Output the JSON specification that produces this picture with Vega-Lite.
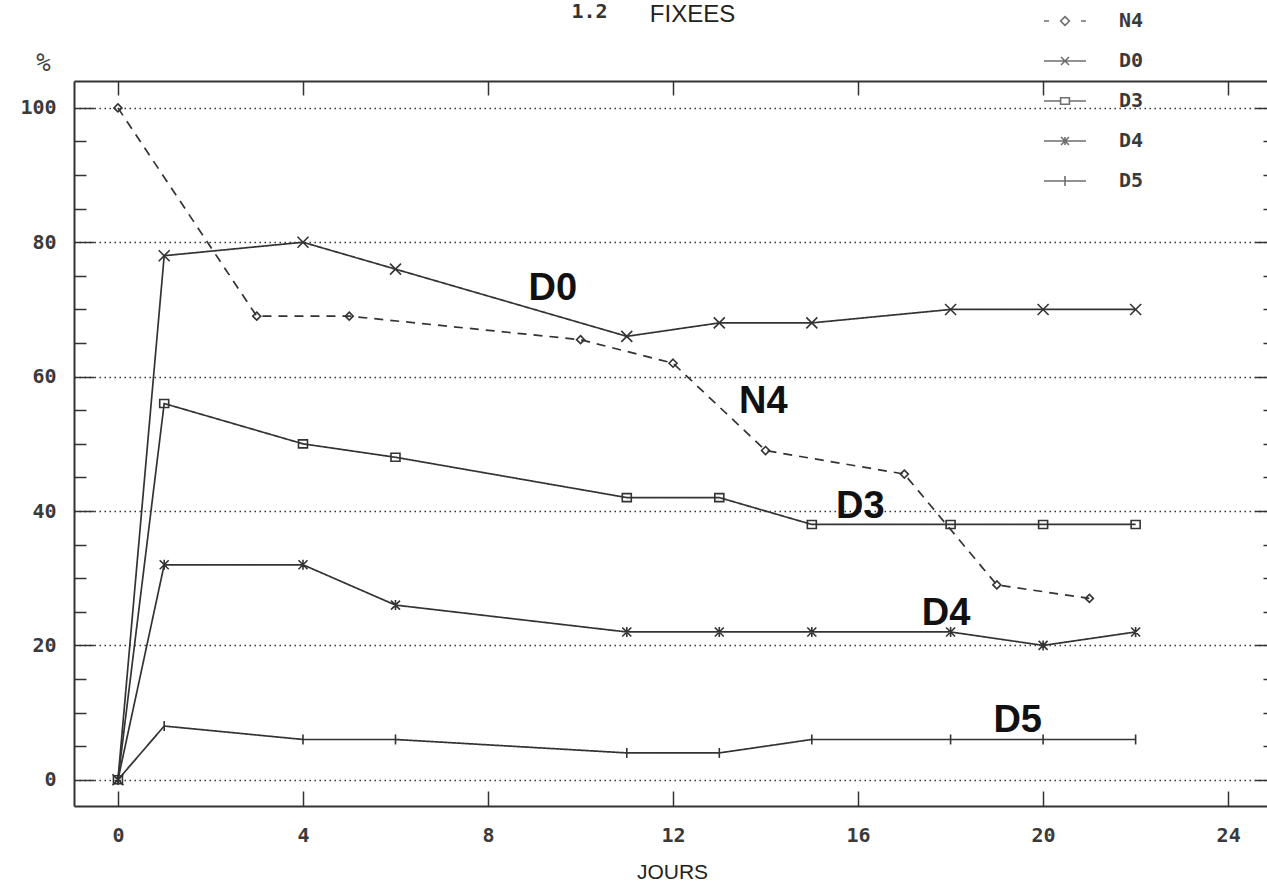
{
  "$schema": "https://vega.github.io/schema/vega-lite/v6.json",
  "width": 1193,
  "height": 725,
  "autosize": {"type": "none"},
  "padding": {"left": 74, "top": 81, "right": 0, "bottom": 78},
  "background": "white",
  "config": {
    "view": {"stroke": null},
    "axis": {"domainColor": "#333", "domainWidth": 2, "tickColor": "#333", "tickWidth": 1.5,
             "labelFont": "DejaVu Sans Mono", "labelFontWeight": "bold", "labelFontSize": 20, "labelColor": "#3a3a3a",
             "titleFontWeight": "normal", "titleColor": "#222"}
  },
  "datasets": {
    "main": [
      {"series": "N4", "day": 0, "value": 100},
      {"series": "N4", "day": 3, "value": 69},
      {"series": "N4", "day": 5, "value": 69},
      {"series": "N4", "day": 10, "value": 65.5},
      {"series": "N4", "day": 12, "value": 62},
      {"series": "N4", "day": 14, "value": 49},
      {"series": "N4", "day": 17, "value": 45.5},
      {"series": "N4", "day": 19, "value": 29},
      {"series": "N4", "day": 21, "value": 27},
      {"series": "D0", "day": 0, "value": 0},
      {"series": "D0", "day": 1, "value": 78},
      {"series": "D0", "day": 4, "value": 80},
      {"series": "D0", "day": 6, "value": 76},
      {"series": "D0", "day": 11, "value": 66},
      {"series": "D0", "day": 13, "value": 68},
      {"series": "D0", "day": 15, "value": 68},
      {"series": "D0", "day": 18, "value": 70},
      {"series": "D0", "day": 20, "value": 70},
      {"series": "D0", "day": 22, "value": 70},
      {"series": "D3", "day": 0, "value": 0},
      {"series": "D3", "day": 1, "value": 56},
      {"series": "D3", "day": 4, "value": 50},
      {"series": "D3", "day": 6, "value": 48},
      {"series": "D3", "day": 11, "value": 42},
      {"series": "D3", "day": 13, "value": 42},
      {"series": "D3", "day": 15, "value": 38},
      {"series": "D3", "day": 18, "value": 38},
      {"series": "D3", "day": 20, "value": 38},
      {"series": "D3", "day": 22, "value": 38},
      {"series": "D4", "day": 0, "value": 0},
      {"series": "D4", "day": 1, "value": 32},
      {"series": "D4", "day": 4, "value": 32},
      {"series": "D4", "day": 6, "value": 26},
      {"series": "D4", "day": 11, "value": 22},
      {"series": "D4", "day": 13, "value": 22},
      {"series": "D4", "day": 15, "value": 22},
      {"series": "D4", "day": 18, "value": 22},
      {"series": "D4", "day": 20, "value": 20},
      {"series": "D4", "day": 22, "value": 22},
      {"series": "D5", "day": 0, "value": 0},
      {"series": "D5", "day": 1, "value": 8},
      {"series": "D5", "day": 4, "value": 6},
      {"series": "D5", "day": 6, "value": 6},
      {"series": "D5", "day": 11, "value": 4},
      {"series": "D5", "day": 13, "value": 4},
      {"series": "D5", "day": 15, "value": 6},
      {"series": "D5", "day": 18, "value": 6},
      {"series": "D5", "day": 20, "value": 6},
      {"series": "D5", "day": 22, "value": 6}
    ],
    "labels": [
      {"label": "D0", "day": 9.4, "value": 73.1},
      {"label": "N4", "day": 13.95, "value": 56.2},
      {"label": "D3", "day": 16.05, "value": 40.6},
      {"label": "D4", "day": 17.9, "value": 24.7},
      {"label": "D5", "day": 19.45, "value": 8.8}
    ]
  },
  "resolve": {
    "scale": {"shape": "independent"},
    "axis": {"x": "independent", "y": "independent"},
    "legend": {"shape": "independent"}
  },
  "layer": [
    {
      "data": {"name": "main"},
      "mark": {"type": "line", "color": "#333", "strokeWidth": 1.7},
      "encoding": {
        "x": {"field": "day", "type": "quantitative",
              "scale": {"domain": [-0.95, 24.84], "nice": false, "zero": false},
              "axis": {"orient": "bottom", "values": [0, 4, 8, 12, 16, 20, 24], "tickSize": -15, "labelPadding": 34,
                       "grid": false, "domain": true,
                       "title": "JOURS", "titleFont": "Liberation Sans", "titleFontSize": 21, "titleX": 598, "titleY": 66,
                       "titleAlign": "center", "titleBaseline": "middle", "titleAnchor": null}},
        "y": {"field": "value", "type": "quantitative",
              "scale": {"domain": [-3.9, 104], "nice": false, "zero": false},
              "axis": {"orient": "left", "values": [0, 20, 40, 60, 80, 100], "tickSize": -20, "labelPadding": 38,
                       "grid": true, "gridDash": [1.5, 3.5], "gridColor": "#333", "gridWidth": 1.5, "gridOpacity": 1,
                       "domain": true,
                       "title": "%", "titleAngle": 0, "titleFont": "DejaVu Sans Mono", "titleFontSize": 24, "titleColor": "#444",
                       "titleX": -31, "titleY": -18, "titleAlign": "center", "titleBaseline": "middle", "titleAnchor": null}},
        "detail": {"field": "series"},
        "strokeDash": {"field": "series", "type": "nominal",
                       "scale": {"domain": ["N4", "D0", "D3", "D4", "D5"], "range": [[9, 7], [1, 0], [1, 0], [1, 0], [1, 0]]},
                       "legend": null}
      }
    },
    {
      "data": {"name": "main"},
      "mark": {"type": "point", "filled": false, "color": "#333", "strokeWidth": 1.6, "size": 100, "opacity": 1},
      "encoding": {
        "x": {"field": "day", "type": "quantitative",
              "scale": {"domain": [-0.95, 24.84], "nice": false, "zero": false},
              "axis": {"orient": "top", "values": [0, 4, 8, 12, 16, 20, 24], "tickSize": -14, "labels": false,
                       "grid": false, "domain": true,
                       "title": "FIXEES", "titleFont": "Liberation Sans", "titleFontSize": 24, "titleX": 618, "titleY": -67,
                       "titleAlign": "center", "titleBaseline": "middle", "titleAnchor": null}},
        "y": {"field": "value", "type": "quantitative",
              "scale": {"domain": [-3.9, 104], "nice": false, "zero": false},
              "axis": {"orient": "right", "offset": 8, "values": [0, 20, 40, 60, 80, 100], "tickSize": -20, "labels": false,
                       "grid": false, "domain": true, "title": null}},
        "shape": {"field": "series", "type": "nominal",
                  "scale": {"domain": ["N4", "D0", "D3", "D4", "D5"],
                            "range": ["M0,-0.8L0.8,0L0,0.8L-0.8,0Z",
                                      "M-1.1,-1.1L1.1,1.1M-1.1,1.1L1.1,-1.1",
                                      "M-0.9,-0.8L0.9,-0.8L0.9,0.8L-0.9,0.8Z",
                                      "M-0.9,-0.9L0.9,0.9M-0.9,0.9L0.9,-0.9M0,-1L0,1M-0.6,-0.6L0.6,0.6M-0.6,0.6L0.6,-0.6",
                                      "M0,-1L0,1"]},
                  "legend": null}
      }
    },
    {
      "data": {"name": "main"},
      "transform": [{"filter": "datum.day < -5"}],
      "mark": {"type": "point", "filled": false, "color": "#333", "strokeWidth": 1.5},
      "encoding": {
        "x": {"field": "day", "type": "quantitative",
              "scale": {"domain": [-0.95, 24.84], "nice": false, "zero": false},
              "axis": {"orient": "top", "ticks": false, "labels": false, "domain": false, "grid": false,
                       "title": "1.2", "titleFont": "DejaVu Sans Mono", "titleFontWeight": "bold", "titleFontSize": 20, "titleColor": "#333",
                       "titleX": 515, "titleY": -70, "titleAlign": "center", "titleBaseline": "middle", "titleAnchor": null}},
        "y": {"field": "value", "type": "quantitative",
              "scale": {"domain": [-3.9, 104], "nice": false, "zero": false},
              "axis": {"orient": "left", "values": [5, 10, 15, 25, 30, 35, 45, 50, 55, 65, 70, 75, 85, 90, 95],
                       "tickSize": -12, "labels": false, "grid": false, "domain": false, "title": null}},
        "shape": {"field": "series", "type": "nominal",
                  "scale": {"domain": ["N4", "D0", "D3", "D4", "D5"],
                            "range": ["M-1.05,0L-0.8,0M0.8,0L1.05,0M0,-0.22L0.22,0L0,0.22L-0.22,0Z",
                                      "M-1.05,0L1.05,0M-0.2,-0.2L0.2,0.2M-0.2,0.2L0.2,-0.2",
                                      "M-1.05,0L-0.22,0M0.22,0L1.05,0M-0.22,-0.16L0.22,-0.16L0.22,0.16L-0.22,0.16Z",
                                      "M-1.05,0L1.05,0M-0.2,-0.2L0.2,0.2M-0.2,0.2L0.2,-0.2M0,-0.2L0,0.2",
                                      "M-1.05,0L1.05,0M0,-0.25L0,0.25"]},
                  "legend": {"orient": "none", "legendX": 970, "legendY": -81, "title": null, "padding": 0,
                             "symbolSize": 1600, "symbolStrokeWidth": 1.6, "symbolStrokeColor": "#333", "symbolFillColor": "transparent",
                             "labelFont": "DejaVu Sans Mono", "labelFontWeight": "bold", "labelFontSize": 20, "labelColor": "#3a3a3a",
                             "labelOffset": 33, "rowPadding": 9}}
      }
    },
    {
      "data": {"name": "labels"},
      "mark": {"type": "text", "font": "Liberation Sans", "fontWeight": "bold", "fontSize": 38, "color": "#111",
               "align": "center", "baseline": "middle"},
      "encoding": {
        "x": {"field": "day", "type": "quantitative",
              "scale": {"domain": [-0.95, 24.84], "nice": false, "zero": false}, "axis": null},
        "y": {"field": "value", "type": "quantitative",
              "scale": {"domain": [-3.9, 104], "nice": false, "zero": false},
              "axis": {"orient": "right", "offset": 8, "values": [5, 10, 15, 25, 30, 35, 45, 50, 55, 65, 70, 75, 85, 90, 95],
                       "tickSize": -12, "labels": false, "grid": false, "domain": false, "title": null}},
        "text": {"field": "label"}
      }
    }
  ]
}
